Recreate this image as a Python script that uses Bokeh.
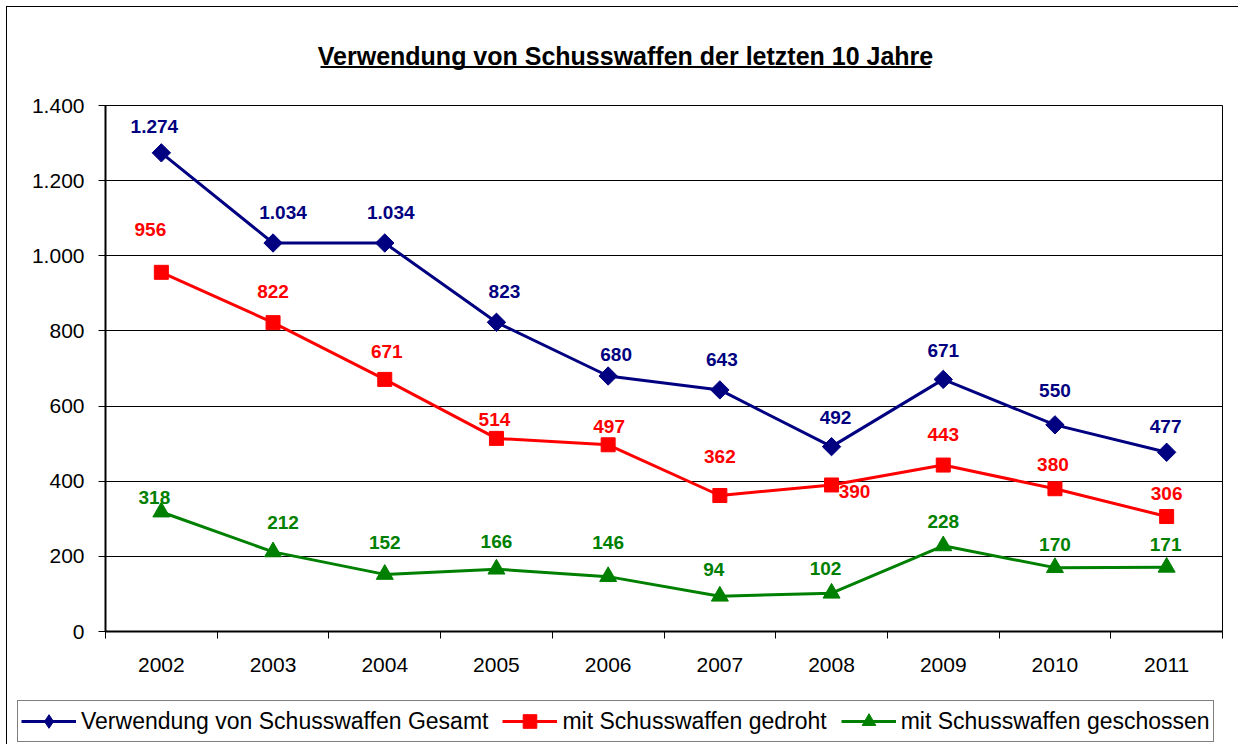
from bokeh.plotting import figure
from bokeh.layouts import column
from bokeh.models import (Range1d, FixedTicker, Legend, LegendItem, ColumnDataSource)
from bokeh.embed import file_html
from bokeh.resources import INLINE
from bokeh.core.properties import value
import math

# ---------------- data ----------------
years = ["2002", "2003", "2004", "2005", "2006", "2007", "2008", "2009", "2010", "2011"]
gesamt = [1274, 1034, 1034, 823, 680, 643, 492, 671, 550, 477]
gedroht = [956, 822, 671, 514, 497, 362, 390, 443, 380, 306]
geschossen = [318, 212, 152, 166, 146, 94, 102, 228, 170, 171]
y_ticks = [0, 200, 400, 600, 800, 1000, 1200, 1400]
title_text = "Verwendung von Schusswaffen der letzten 10 Jahre"
names = ["Verwendung von Schusswaffen Gesamt", "mit Schusswaffen gedroht",
         "mit Schusswaffen geschossen"]

# label offsets (pixels) - styling only
off_g = [(-7, -26), (10, -31), (6, -31), (8, -31), (8, -22), (2, -30), (4, -29), (0, -29), (0, -34), (-1, -26)]
off_d = [(-11, -43), (0, -31), (2, -28), (-2, -19), (1, -18), (0, -39), (23, 7), (0, -31), (-2, -24), (0, -23)]
off_s = [(-7, -15), (10, -29), (0, -32), (0, -28), (0, -34), (-6, -27), (-6, -25), (0, -24), (0, -23), (-1, -23)]

FONT = "Liberation Sans"
BLUE, RED, GREEN = "#000080", "#FF0000", "#008000"

# page-pixel layout
OFF = 7                                  # chart block offset (outer frame just outside)
FL, FR, FT, FB = 105, 1222, 105, 631     # plot frame, page pixels
W = 1238 - OFF
TOP_END = 90                             # page y where main figure starts
MAIN_END = 691                           # page y where main figure ends
H_TOP = TOP_END - OFF
H_MAIN = MAIN_END - TOP_END
H_LEG = 744 - MAIN_END
YMAX = y_ticks[-1]
N = len(years)

# ---------- title strip (its frame is aligned with the chart frame) ----------
pt = figure(width=W, height=H_TOP, output_backend="svg", toolbar_location=None,
            x_range=Range1d(FL, FR), y_range=Range1d(TOP_END, OFF),
            x_axis_type=None, y_axis_type=None, min_border=0,
            outline_line_color=None, background_fill_color="white",
            border_fill_color="white")
pt.grid.visible = False
pt.text(x=[(320 + 930) / 2], y=[55], text=[title_text], text_font=value(FONT),
        text_font_style="bold", text_font_size="25px", text_color="black",
        text_align="center", text_baseline="middle")
pt.segment(x0=[320], y0=[66.5], x1=[930], y1=[66.5], line_color="black", line_width=2)

# ---------- main chart ----------
p = figure(width=W, height=H_MAIN, output_backend="svg", toolbar_location=None,
           x_range=Range1d(0, N), y_range=Range1d(0, YMAX),
           min_border_left=FL - OFF, min_border_right=OFF + W - FR,
           min_border_top=FT - TOP_END, min_border_bottom=MAIN_END - FB,
           background_fill_color="white", border_fill_color="white")
p.outline_line_color = "black"
p.outline_line_width = 1

xs = [i + 0.5 for i in range(N)]
xax = p.xaxis[0]
xax.ticker = FixedTicker(ticks=xs, minor_ticks=list(range(N + 1)))
xax.major_label_overrides = {x: y for x, y in zip(xs, years)}
xax.major_tick_out = 0
xax.major_tick_in = 0
xax.minor_tick_out = 7
xax.minor_tick_in = 0
xax.minor_tick_line_color = "black"
xax.axis_line_width = 2
xax.axis_line_color = "black"
xax.major_label_standoff = 19
xax.major_label_text_font = FONT
xax.major_label_text_font_size = "21px"
xax.major_label_text_color = "black"

yax = p.yaxis[0]
yax.ticker = FixedTicker(ticks=y_ticks, minor_ticks=[])
yax.major_label_overrides = {t: f"{t:,}".replace(",", ".") for t in y_ticks}
yax.major_tick_out = 7
yax.major_tick_in = 0
yax.major_tick_line_color = "black"
yax.minor_tick_line_color = None
yax.axis_line_width = 2
yax.axis_line_color = "black"
yax.major_label_standoff = 14
yax.major_label_text_font = FONT
yax.major_label_text_font_size = "21px"
yax.major_label_text_color = "black"

p.xgrid.grid_line_color = None
p.ygrid.grid_line_color = "black"
p.ygrid.grid_line_width = 1
p.ygrid.ticker = FixedTicker(ticks=y_ticks)

# (values, colour, label offsets, marker, angle, size, legend marker)
series = [
    (gesamt, BLUE, off_g, "square", math.pi / 4, 13, "diamond"),
    (gedroht, RED, off_d, "square", 0, 14, "square"),
    (geschossen, GREEN, off_s, "triangle", 0, 17, "triangle"),
]

# ---------- legend strip ----------
pl = figure(width=W, height=H_LEG, output_backend="svg", toolbar_location=None,
            x_range=Range1d(0, W), y_range=Range1d(0, H_LEG),
            x_axis_type=None, y_axis_type=None, min_border=0,
            outline_line_color=None, background_fill_color="white",
            border_fill_color="white")
pl.grid.visible = False

items = []
for (vals, col, offs, mk, ang, sz, lmk), nm in zip(series, names):
    labels = [f"{v:,}".replace(",", ".") for v in vals]
    src = ColumnDataSource(dict(x=xs, y=vals, lab=labels,
                                dx=[o[0] for o in offs], dy=[o[1] for o in offs]))
    p.line("x", "y", source=src, line_color=col, line_width=3)
    p.scatter("x", "y", source=src, marker=mk, angle=ang, size=sz,
              fill_color=col, line_color=col)
    p.text("x", "y", text="lab", source=src, x_offset="dx", y_offset="dy",
           text_font=value(FONT), text_font_style="bold", text_font_size="19px",
           text_color=col, text_align="center", text_baseline="middle")
    # legend swatches (a single NaN point, nothing drawn in the strip)
    ln = pl.line(x=[float("nan")], y=[float("nan")], line_color=col, line_width=3)
    sc = pl.scatter(x=[float("nan")], y=[float("nan")], marker=lmk, size=sz,
                    fill_color=col, line_color=col)
    items.append(LegendItem(label=nm, renderers=[ln, sc]))

legend = Legend(items=items, orientation="horizontal",
                location=(17 - OFF, 744 - 742),
                label_text_font=FONT, label_text_font_size="23px",
                label_text_color="black", glyph_width=55, glyph_height=34,
                label_standoff=5, spacing=14, padding=3, margin=0,
                border_line_color="black", border_line_width=1,
                background_fill_color="white", background_fill_alpha=1)
pl.add_layout(legend, "center")

inner = column(pt, p, spacing=0)
layout = column(inner, pl, spacing=0)
layout.styles = {"margin-left": f"{OFF}px", "margin-top": f"{OFF}px",
                 "outline": "1.5px solid black"}

open("out.html", "w").write(file_html(layout, INLINE))
